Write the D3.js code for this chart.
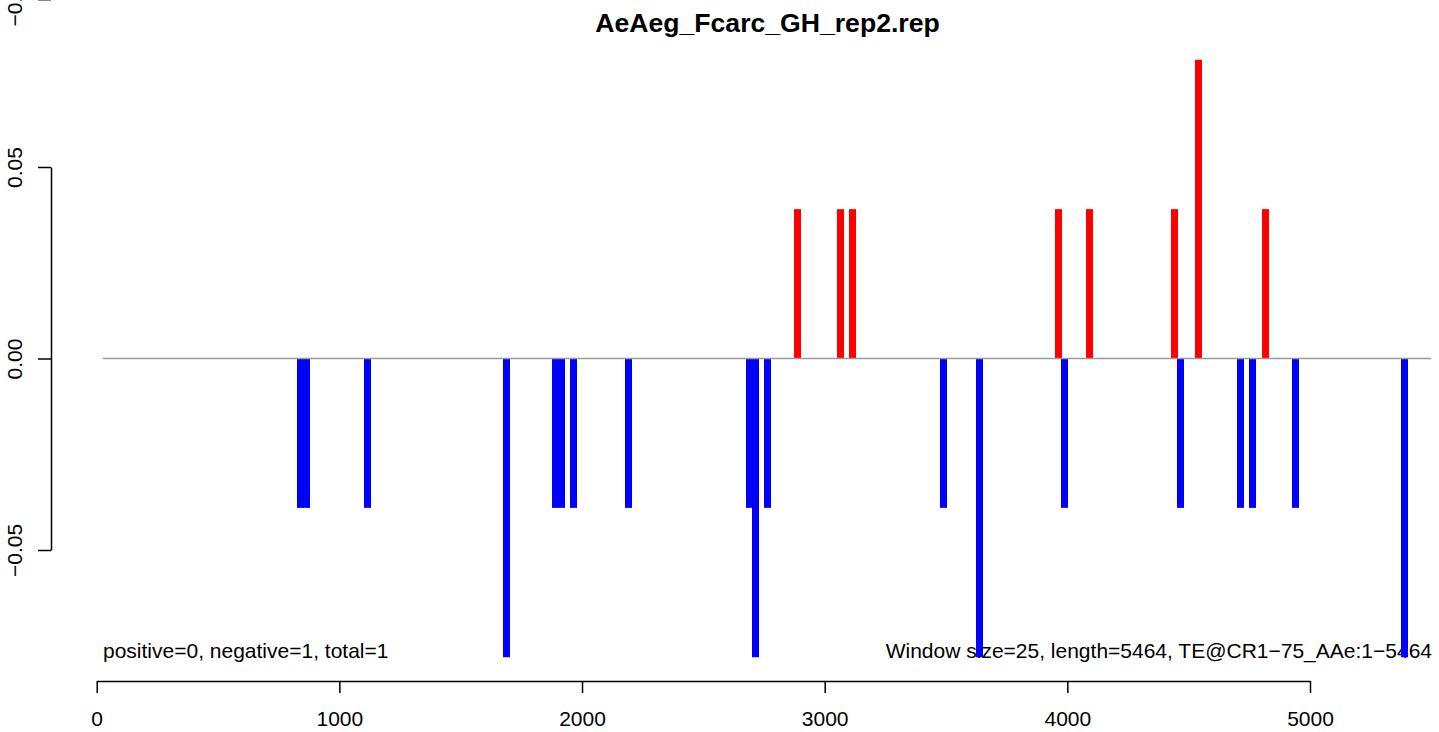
<!DOCTYPE html>
<html>
<head>
<meta charset="utf-8">
<script src="https://cdn.jsdelivr.net/npm/d3@7"></script>
<style>
  html, body { margin: 0; padding: 0; background: #fff; }
  svg { display: block; }
  text { font-family: "Liberation Sans", Arial, Helvetica, sans-serif; }
</style>
</head>
<body>
<svg id="chart" width="1439" height="732"></svg>
<script>
// ---- data ----
const title = "AeAeg_Fcarc_GH_rep2.rep";
const positions = [840, 865, 1115, 1690, 1890, 1915, 1965, 2190, 2690, 2715, 2765,
                   2890, 3065, 3115, 3490, 3640, 3965, 3990, 4090, 4440, 4465, 4540,
                   4715, 4765, 4815, 4940, 5390];
const values = [-0.039, -0.039, -0.039, -0.078, -0.039, -0.039, -0.039, -0.039, -0.039, -0.078, -0.039,
                 0.039, 0.039, 0.039, -0.039, -0.078, 0.039, -0.039, 0.039, 0.039, -0.039, 0.078,
                 -0.039, -0.039, 0.039, -0.039, -0.078];
const xTicks = [0, 1000, 2000, 3000, 4000, 5000];
const yTicks = [-0.05, 0, 0.05];
const baselineRange = [25, 5500];
const leftNote = "positive=0, negative=1, total=1";
const rightNote = "Window size=25, length=5464, TE@CR1\u221275_AAe:1\u22125464";
const topStrayLabel = "\u22120.10";

// ---- layout ----
const svg = d3.select("#chart");
const x = d3.scaleLinear().domain([0, 5000]).range([96.7, 1310]);
const y = d3.scaleLinear().domain([-0.05, 0.05]).range([550, 167]);
const font = 21;

// title
svg.append("text")
  .attr("x", 767.5).attr("y", 32)
  .attr("text-anchor", "middle")
  .attr("font-weight", "bold")
  .attr("font-size", 26.6)
  .text(title);

// x axis
const xAxis = svg.append("g")
  .attr("transform", "translate(0,681)")
  .call(d3.axisBottom(x).tickValues(xTicks).tickSize(12).tickSizeOuter(0).tickPadding(18).tickFormat(d3.format("d")));
xAxis.selectAll("path, line").attr("stroke", "#000").attr("stroke-width", 1.5);
xAxis.selectAll("text").attr("font-size", font).attr("fill", "#000")
  .attr("font-family", '"Liberation Sans", Arial, sans-serif');

// y axis
const yAxis = svg.append("g")
  .attr("transform", "translate(51,0)")
  .call(d3.axisLeft(y).tickValues(yTicks).tickSize(13).tickSizeOuter(0).tickFormat(d3.format(".2f")));
yAxis.selectAll("path, line").attr("stroke", "#000").attr("stroke-width", 1.5);
yAxis.selectAll("text")
  .attr("font-size", font).attr("fill", "#000")
  .attr("font-family", '"Liberation Sans", Arial, sans-serif')
  .attr("text-anchor", "middle")
  .attr("x", 0).attr("y", -29).attr("dy", null)
  .attr("transform", "rotate(-90)");

// stray label at the top-left (from the panel above)
svg.append("line").attr("x1", 38).attr("x2", 51).attr("y1", 0.5).attr("y2", 0.5)
  .attr("stroke", "#888").attr("stroke-width", 1);
svg.append("text")
  .attr("transform", "translate(22,0) rotate(-90)")
  .attr("text-anchor", "middle")
  .attr("font-size", font)
  .text(topStrayLabel);

// notes
svg.append("text").attr("x", 103).attr("y", 658).attr("font-size", font).text(leftNote);
svg.append("text").attr("x", 1432).attr("y", 658).attr("text-anchor", "end").attr("font-size", font).text(rightNote);

// bars
const data = positions.map((p, i) => ({ p, v: values[i] }));
const barW = 7;
svg.append("g").selectAll("rect")
  .data(data)
  .join("rect")
  .attr("x", d => Math.round(x(d.p) - barW / 2))
  .attr("width", barW)
  .attr("y", d => Math.min(y(d.v), y(0)))
  .attr("height", d => Math.abs(y(d.v) - y(0)))
  .attr("fill", d => d.v > 0 ? "#ff0000" : "#0000ff");

// zero line
svg.append("line")
  .attr("x1", x(baselineRange[0])).attr("x2", x(baselineRange[1]))
  .attr("y1", y(0)).attr("y2", y(0))
  .attr("stroke", "#9a9a9a").attr("stroke-width", 1.6);
</script>
</body>
</html>
